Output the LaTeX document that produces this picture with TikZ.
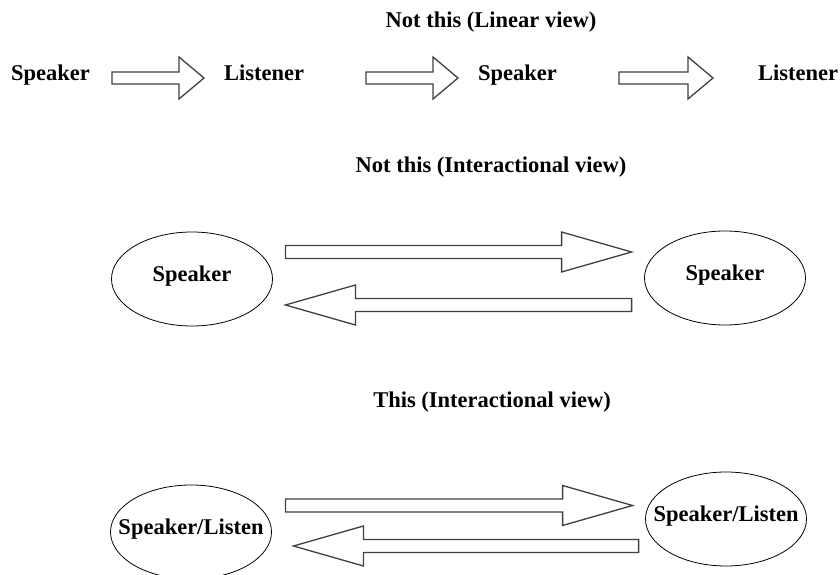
\documentclass[tikz,border=0pt]{standalone}
\usepackage{fontspec}
\setmainfont{Liberation Serif}
\usetikzlibrary{shapes.geometric, calc}

\begin{document}
\begin{tikzpicture}[x=1pt, y=1pt,
  word node/.style={font=\bfseries\fontsize{22.5}{27}\selectfont, inner sep=0pt,
    text height=1.5ex, text depth=.25ex},
  party node/.style={draw, ellipse, line width=0.8pt, minimum width=161pt,
    minimum height=94pt, inner sep=0pt, label={[word node]center:#1}},
  block arrow/.style n args={3}{draw=black!75, line width=1.3pt, fill=white,
    to path={let \p1=(\tikztostart), \p2=(\tikztotarget),
      \n1={ifthenelse(\x2>\x1,1,-1)} in
      ({\x1},{\y1+#3}) -- ({\x2-\n1*#1},{\y1+#3}) -- ({\x2-\n1*#1},{\y1+#2})
      -- ({\x2},{\y1}) -- ({\x2-\n1*#1},{\y1-#2}) -- ({\x2-\n1*#1},{\y1-#3})
      -- ({\x1},{\y1-#3}) -- cycle}},
  small arrow/.style={block arrow={25}{21}{6}},
  big arrow/.style={block arrow={70}{20}{6.5}}
]
  \useasboundingbox (0,0) rectangle (840,575);

  % Linear view
  \node[word node] (titleA) at (491,550) {Not this (Linear view)};
  \node[word node] (spk1) at (50.5,497) {Speaker};
  \node[word node] (lis1) at (264,497)  {Listener};
  \node[word node] (spk2) at (517.5,497) {Speaker};
  \node[word node] (lis2) at (798,497)  {Listener};

  \draw[small arrow] ($(spk1)+(61.5,0)$) to ($(lis1)+(-60,0)$);
  \draw[small arrow] ($(lis1)+(102,0)$)  to ($(spk2)+(-59.5,0)$);
  \draw[small arrow] ($(spk2)+(101.5,0)$) to ($(lis2)+(-85,0)$);

  % Interactional view, two speakers
  \node[word node] (titleB) at (491,405) {Not this (Interactional view)};
  \node[party node=Speaker] (spkA) at (192,296) {};
  \node[party node=Speaker] (spkB) at (725,297) {};

  \draw[big arrow] ($(spkA.east)+(12.5,27)$)  to ($(spkB.west)+(-12.5,27)$);
  \draw[big arrow] ($(spkB.west)+(-12.5,-27)$) to ($(spkA.east)+(12.5,-27)$);

  % Interactional view, speaker/listener
  \node[word node] (titleC) at (492,170) {This (Interactional view)};
  \node[party node=Speaker/Listen] (slA) at (191,43) {};
  \node[party node=Speaker/Listen] (slB) at (726,56) {};

  \draw[big arrow] ($(slA.east)+(13.5,26.5)$) to ($(slB.west)+(-12.5,13.5)$);
  \draw[big arrow] ($(slB.west)+(-6.5,-27)$)  to ($(slA.east)+(21.5,-14)$);
\end{tikzpicture}
\end{document}
